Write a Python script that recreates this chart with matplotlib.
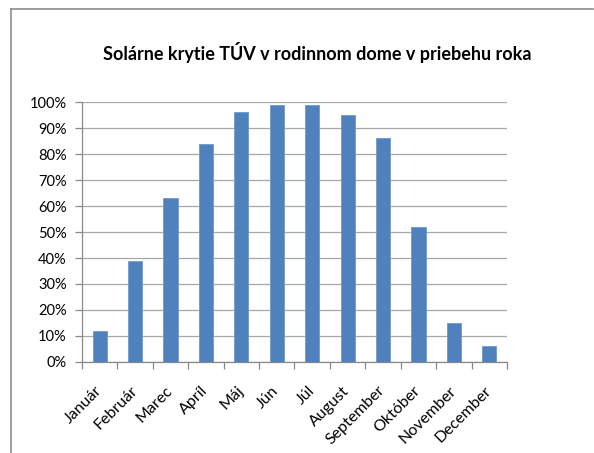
import numpy as np
import matplotlib
matplotlib.use('Agg')
import matplotlib.pyplot as plt
from matplotlib.lines import Line2D
from matplotlib.ticker import PercentFormatter

months = ['Január', 'Február', 'Marec', 'Apríl', 'Máj', 'Jún', 'Júl',
          'August', 'September', 'Október', 'November', 'December']
coverage = [12, 39, 63, 84, 96, 99, 99, 95, 86, 52, 15, 6]
title = 'Solárne krytie TÚV v rodinnom dome v priebehu roka'

plt.rcParams['font.family'] = ['Lato', 'DejaVu Sans']

fig = plt.figure(figsize=(5.94, 4.53), dpi=100)
ax = fig.add_axes([0.138, 0.2009, 0.7155, 0.5739])

x = np.arange(len(months))
ax.bar(x, coverage, width=0.4, color='#4F81BD', edgecolor='#7099cc',
       linewidth=0.6, zorder=3)

ax.set_xlim(-0.5, len(months) - 0.5)
ax.set_ylim(0, 100)
ax.set_yticks(np.arange(0, 101, 10))
ax.yaxis.set_major_formatter(PercentFormatter(decimals=0))
ax.grid(axis='y', color='#a8a8a8', linewidth=0.9, zorder=0)

ax.set_xticks(x)
ax.set_xticklabels(months, rotation=45, ha='right', rotation_mode='anchor')
ax.set_xticks(np.arange(-0.5, len(months)), minor=True)
ax.tick_params(axis='x', which='major', length=0, pad=19, labelsize=11.5)
ax.tick_params(axis='x', which='minor', length=5, color='#888888', width=0.9)
ax.tick_params(axis='y', length=5, color='#888888', width=0.9,
               labelsize=10.5, pad=6)
for lbl in ax.get_xticklabels():
    lbl.set_va('center')

for side in ('top', 'right'):
    ax.spines[side].set_visible(False)
for side in ('left', 'bottom'):
    ax.spines[side].set_color('#888888')
    ax.spines[side].set_linewidth(0.9)

fig.text(0.534, 0.885, title, ha='center', va='center',
         fontsize=13, fontweight='bold')

# outer chart frame (only left and top edges visible)
fig.add_artist(Line2D([11 / 594, 11 / 594], [0, 1 - 9 / 453],
                      color='#8c8c8c', linewidth=1.2))
fig.add_artist(Line2D([11 / 594, 593 / 594], [1 - 9 / 453, 1 - 9 / 453],
                      color='#8c8c8c', linewidth=1.2))

fig.savefig('out.png', dpi=100, facecolor='white')
